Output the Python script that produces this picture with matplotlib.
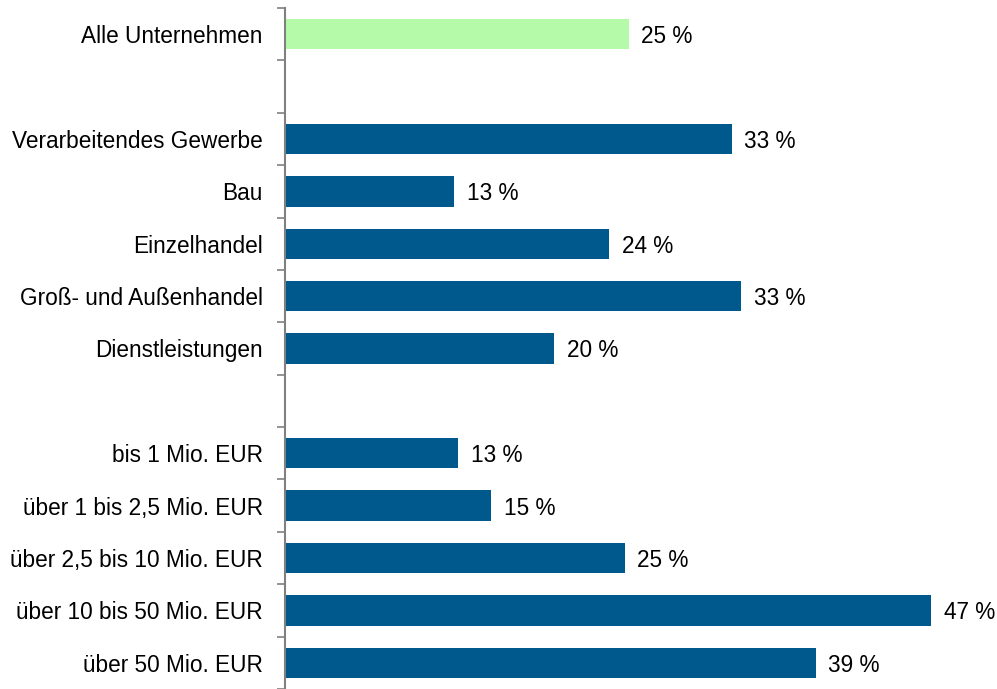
import matplotlib.pyplot as plt
import numpy as np

# categories from top to bottom; None marks an empty gap row
categories = [
    "Alle Unternehmen", None,
    "Verarbeitendes Gewerbe", "Bau", "Einzelhandel",
    "Groß- und Außenhandel", "Dienstleistungen", None,
    "bis 1 Mio. EUR", "über 1 bis 2,5 Mio. EUR", "über 2,5 bis 10 Mio. EUR",
    "über 10 bis 50 Mio. EUR", "über 50 Mio. EUR",
]
values = [25.0, None, 32.5, 12.3, 23.6, 33.2, 19.6, None,
          12.6, 15.0, 24.7, 47.0, 38.6]
labels = ["25 %", None, "33 %", "13 %", "24 %", "33 %", "20 %", None,
          "13 %", "15 %", "25 %", "47 %", "39 %"]

plt.rcParams["font.family"] = ["Liberation Sans", "DejaVu Sans"]

fig = plt.figure(figsize=(9.97, 6.89), dpi=100)
ax = fig.add_axes([285 / 997, 0.0, 1 - 285 / 997, 1 - 8 / 689])

pos = np.arange(len(categories))
for i, (cat, val, lab) in enumerate(zip(categories, values, labels)):
    if val is None:
        continue
    color = "#B4FAA8" if i == 0 else "#00598C"
    ax.barh(i, val, height=0.58, color=color)
    ax.annotate(lab, (val, i), xytext=(9, 0), textcoords="offset points",
                va="center_baseline", ha="left", fontsize=16.3, color="black")

ax.set_ylim(len(categories) - 0.5, -0.5)
ax.set_xlim(0, 51.8)

ax.set_yticks(pos)
ax.set_yticklabels([c if c else "" for c in categories], fontsize=16.3)
ax.set_yticks(np.arange(len(categories) + 1) - 0.5, minor=True)
ax.tick_params(axis="y", which="major", length=0, pad=16)
ax.tick_params(axis="y", which="minor", length=6, width=1.2, color="#808080",
               direction="out")
ax.set_xticks([])

for side in ["top", "right", "bottom"]:
    ax.spines[side].set_visible(False)
ax.spines["left"].set_color("#808080")
ax.spines["left"].set_linewidth(1.5)

fig.savefig("out.png", dpi=100)
